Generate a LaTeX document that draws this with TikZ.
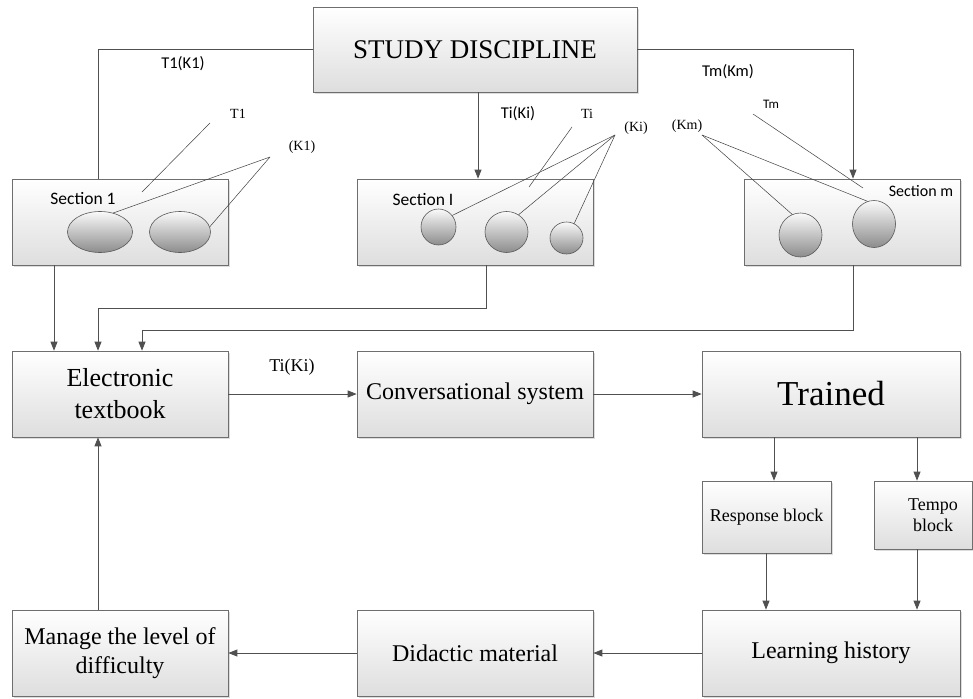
\documentclass[tikz,border=0pt]{standalone}
\usepackage{fontspec}
\setmainfont{Liberation Serif}
\newfontfamily\calfont{Carlito}
\usetikzlibrary{arrows.meta,shapes.geometric,shadows}
\definecolor{lncol}{HTML}{505050}
\definecolor{bdcol}{HTML}{6E6E6E}
\tikzset{
  box/.style={draw=bdcol, line width=0.7pt, top color=white, bottom color=black!13,
    drop shadow={shadow xshift=1.6pt, shadow yshift=-1.6pt, fill=black!22, opacity=0.6},
    inner sep=2pt, align=center},
  ell/.style={ellipse, draw=black!65, line width=0.6pt, top color=black!2, bottom color=black!45,
    inner sep=0pt},
  conn/.style={lncol, line width=0.75pt},
  arr/.style={conn, -{Triangle[length=9pt,width=7pt]}},
  leader/.style={black!75, line width=0.5pt},
  sanslbl/.style={font=\calfont\fontsize{16.5}{19}\selectfont, inner sep=0pt},
  seriflbl/.style={font=\fontsize{14}{16}\selectfont, inner sep=0pt},
  fbig/.style={font=\fontsize{24}{29}\selectfont},
}
\begin{document}
\begin{tikzpicture}[x=1pt,y=-1pt]
\useasboundingbox (0,0) rectangle (973,698);
% top box
\node[box, minimum width=324pt, minimum height=85pt, font=\fontsize{27}{31}\selectfont] (sd) at (475,49.5) {STUDY DISCIPLINE};
% sections
\node[box, minimum width=216pt, minimum height=86pt] (s1) at (120,222) {};
\node[box, minimum width=236pt, minimum height=86pt] (si) at (475,222) {};
\node[box, minimum width=216pt, minimum height=86pt] (sm) at (852,222) {};
\node[sanslbl, font=\calfont\fontsize{17.5}{20}\selectfont] (s1l) at (83,199) {Section 1};
\node[sanslbl, font=\calfont\fontsize{17.5}{20}\selectfont] (sil) at (423,200) {Section I};
\node[sanslbl, font=\calfont\fontsize{16}{19}\selectfont] (sml) at (921,191) {Section m};
% ellipses
\node[ell, minimum width=65pt, minimum height=41pt] (e11) at (100,232) {};
\node[ell, minimum width=61pt, minimum height=41pt] (e12) at (180,232) {};
\node[ell, minimum width=35pt, minimum height=36pt] (ei1) at (438.5,227) {};
\node[ell, minimum width=43pt, minimum height=41pt] (ei2) at (506.5,232) {};
\node[ell, minimum width=33pt, minimum height=32pt] (ei3) at (566.5,238) {};
\node[ell, minimum width=43pt, minimum height=44pt] (em1) at (800.5,235) {};
\node[ell, minimum width=43pt, minimum height=47pt] (em2) at (874,224) {};
% labels top
\node[sanslbl] (lt1k1) at (183,64) {T1(K1)};
\node[sanslbl] (ltiki) at (518,114) {Ti(Ki)};
\node[sanslbl] (ltmkm) at (728,72) {Tm(Km)};
\node[seriflbl] (lt1) at (238,114) {T1};
\node[seriflbl] (lk1) at (302,147) {(K1)};
\node[seriflbl] (lti) at (587,114) {Ti};
\node[seriflbl] (lki) at (636,128) {(Ki)};
\node[seriflbl] (lkm) at (687,126) {(Km)};
\node[sanslbl, font=\calfont\fontsize{13}{15}\selectfont] (ltm) at (771,104) {Tm};
% leader lines
\coordinate (t1a) at (210,123); \coordinate (t1b) at (142,192);
\coordinate (k1a) at (270,157);
\coordinate (tia) at (572,127); \coordinate (tib) at (529,187);
\coordinate (kia) at (615,135);
\coordinate (tma) at (753,114); \coordinate (tmb) at (863,188);
\coordinate (kma) at (702,135);
\draw[leader] (t1a) -- (t1b);
\draw[leader] (k1a) -- (e11.55);
\draw[leader] (k1a) -- (e12.10);
\draw[leader] (tia) -- (tib);
\draw[leader] (kia) -- (ei1.40);
\draw[leader] (kia) -- (ei2.55);
\draw[leader] (kia) -- (ei3.62);
\draw[leader] (tma) -- (tmb);
\draw[leader] (kma) -- (em1.112);
\draw[leader] (kma) -- (em2.106);
% top connectors
\draw[conn] (sd.west) -| ([xshift=-22pt]s1.north);
\draw[arr] ([xshift=3pt]sd.south) -- ([xshift=3pt]si.north);
\draw[arr] (sd.east) -| ([xshift=1pt]sm.north);
% row 2
\node[box, minimum width=216pt, minimum height=86pt, font=\fontsize{26}{32}\selectfont] (et) at (120,394) {Electronic\\textbook};
\node[box, minimum width=236pt, minimum height=86pt, fbig] (cs) at (475,394) {Conversational system};
\node[box, minimum width=258pt, minimum height=86pt, font=\fontsize{35}{40}\selectfont] (tr) at (831,394) {Trained};
% sections to textbook
\coordinate (j1) at (98,308);
\coordinate (j2) at (142,330);
\draw[arr] ([xshift=-66pt]s1.south) -- ([xshift=-66pt]et.north);
\draw[arr] ([xshift=11pt]si.south) |- (j1) -- ([xshift=-22pt]et.north);
\draw[arr] ([xshift=1pt]sm.south) |- (j2) -- ([xshift=22pt]et.north);
\draw[arr] (et.east) -- (cs.west);
\node[seriflbl, font=\fontsize{18}{20}\selectfont] (ltiki2) at (292,367) {Ti(Ki)};
\draw[arr] (cs.east) -- (tr.west);
% row 3
\node[box, minimum width=129pt, minimum height=72pt, font=\fontsize{18}{21}\selectfont] (rb) at (766.5,517) {Response block};
\node[box, minimum width=98pt, minimum height=68pt] (tb) at (923,515) {};
\node[font=\fontsize{18}{21}\selectfont, align=center, inner sep=0pt] (tbl) at (933,515) {Tempo\\block};
\draw[arr] ([xshift=-57pt]tr.south) -- ([xshift=-57pt]tr.south |- rb.north);
\draw[arr] ([xshift=86pt]tr.south) -- ([xshift=86pt]tr.south |- tb.north);
% row 4
\node[box, minimum width=258pt, minimum height=86pt, fbig] (lh) at (831,653) {Learning history};
\node[box, minimum width=236pt, minimum height=86pt, fbig] (dm) at (475,653) {Didactic material};
\node[box, minimum width=216pt, minimum height=86pt, fbig] (mg) at (120,653) {Manage the level of\\difficulty};
\draw[arr] ([xshift=-65pt]lh.north |- rb.south) -- ([xshift=-65pt]lh.north);
\draw[arr] ([xshift=86pt]lh.north |- tb.south) -- ([xshift=86pt]lh.north);
\draw[arr] (lh.west) -- (dm.east);
\draw[arr] (dm.west) -- (mg.east);
\draw[arr] ([xshift=-22pt]mg.north) -- ([xshift=-22pt]et.south);
\end{tikzpicture}
\end{document}
